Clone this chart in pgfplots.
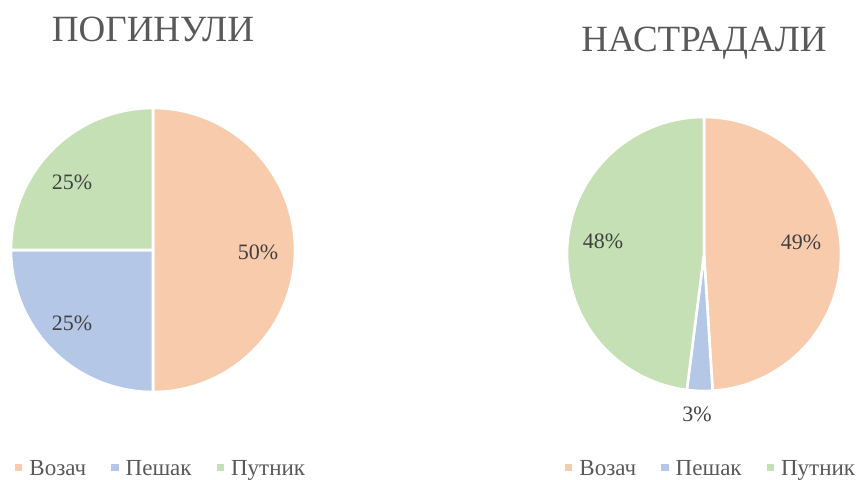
\documentclass[border=0pt]{standalone}
\usepackage{pgfplots}
\pgfplotsset{compat=1.18}
\usepackage{fontspec}
\setmainfont{Liberation Serif}
\definecolor{peach}{HTML}{F8CBAD}
\definecolor{lblue}{HTML}{B4C7E7}
\definecolor{lgreen}{HTML}{C5E0B4}
\definecolor{titlegrey}{HTML}{595959}
\definecolor{labgrey}{HTML}{404040}
% data (percent)
\def\lA{50}\def\lB{25}\def\lC{25}   % ПОГИНУЛИ: Возач, Пешак, Путник
\def\rA{49}\def\rB{3}\def\rC{48}    % НАСТРАДАЛИ: Возач, Пешак, Путник
\newcommand\legf{\fontsize{23}{26}\selectfont}
\newcommand\labf{\fontsize{22}{26}\selectfont}
\pgfplotsset{
  pieaxis/.style={
    at={(0,0)}, anchor=south west,
    scale only axis, width=858pt, height=479pt,
    xmin=0, xmax=858, ymin=0, ymax=479,
    hide axis, clip=false,
    legend columns=3,
    legend image code/.code={\fill[##1, draw=none] (0pt,-2pt) rectangle (7.5pt,5.5pt);},
    legend style={draw=none, fill=none, anchor=center,
      font=\legf, text=titlegrey, inner sep=0pt,
      /tikz/every even column/.append style={column sep=23pt},
      /tikz/every odd column/.append style={column sep=5pt},
      cells={anchor=west}},
  },
  slice/.style={draw=white, line width=2.6pt, samples=90, variable=\t, forget plot},
}
\begin{document}
\begin{tikzpicture}
\pgfmathsetmacro\la{90-3.6*\lA}
\pgfmathsetmacro\lb{\la-3.6*\lB}
\pgfmathsetmacro\ra{90-3.6*\rA}
\pgfmathsetmacro\rb{\ra-3.6*\rB}
% left pie
\begin{axis}[pieaxis, legend style={at={(axis cs:161,10)}}]
\addplot[slice, fill=peach, domain=\la:90] ({153+142*cos(\t)},{229+142*sin(\t)}) -- (axis cs:153,229) -- cycle;
\addplot[slice, fill=lblue, domain=\lb:\la] ({153+142*cos(\t)},{229+142*sin(\t)}) -- (axis cs:153,229) -- cycle;
\addplot[slice, fill=lgreen, domain=-270:\lb] ({153+142*cos(\t)},{229+142*sin(\t)}) -- (axis cs:153,229) -- cycle;
\addlegendimage{fill=peach}\addlegendentry{\legf Возач}
\addlegendimage{fill=lblue}\addlegendentry{\legf Пешак}
\addlegendimage{fill=lgreen}\addlegendentry{\legf Путник}
\node[anchor=base, font=\fontsize{37}{42}\selectfont, text=titlegrey] at (axis cs:153,437) {ПОГИНУЛИ};
\node[font=\labf, text=labgrey] at (axis cs:258,227) {50\%};
\node[font=\labf, text=labgrey] at (axis cs:72,297) {25\%};
\node[font=\labf, text=labgrey] at (axis cs:72,156) {25\%};
\end{axis}
% right pie
\begin{axis}[pieaxis, legend style={at={(axis cs:711,10)}}]
\addplot[slice, fill=peach, domain=\ra:90] ({704+137*cos(\t)},{225+137*sin(\t)}) -- (axis cs:704,225) -- cycle;
\addplot[slice, fill=lblue, domain=\rb:\ra, samples=10] ({704+137*cos(\t)},{225+137*sin(\t)}) -- (axis cs:704,225) -- cycle;
\addplot[slice, fill=lgreen, domain=-270:\rb] ({704+137*cos(\t)},{225+137*sin(\t)}) -- (axis cs:704,225) -- cycle;
\addlegendimage{fill=peach}\addlegendentry{\legf Возач}
\addlegendimage{fill=lblue}\addlegendentry{\legf Пешак}
\addlegendimage{fill=lgreen}\addlegendentry{\legf Путник}
\node[anchor=base, font=\fontsize{37}{42}\selectfont, text=titlegrey] at (axis cs:704,427) {НАСТРАДАЛИ};
\node[font=\labf, text=labgrey] at (axis cs:801,237) {49\%};
\node[font=\labf, text=labgrey] at (axis cs:603,238) {48\%};
\node[font=\labf, text=labgrey] at (axis cs:697,65) {3\%};
\end{axis}
\pgfresetboundingbox
\useasboundingbox (0,0) rectangle (858pt,479pt);
\end{tikzpicture}
\end{document}
